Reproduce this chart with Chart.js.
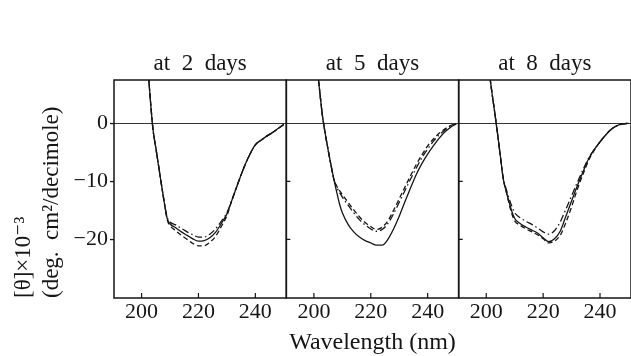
<!DOCTYPE html>
<html><head><meta charset="utf-8">
<script src="https://cdn.jsdelivr.net/npm/chart.js@4.4.0/dist/chart.umd.min.js"></script>
<style>html,body{margin:0;padding:0;background:#fff;overflow:hidden}#c{display:block}</style>
</head><body><canvas id="c" width="631" height="356"></canvas>
<script>
// ---- data ----
const wavelengths = [201,202,203,204,205,206,207,208,209,210,212,214,216,218,220,222,224,226,228,230,232,234,236,238,240,242,244,246,248,250];
const panelTitles = ['at  2  days', 'at  5  days', 'at  8  days'];
const xTickValues = [200, 220, 240];
const yTickValues = [0, -10, -20];
const xTitle = 'Wavelength (nm)';
const yTitle = ['[θ]×10⁻³', '(deg.  cm²/decimole)'];

// at 2 days
const day2Solid   = [17.6,11.1,4.6,-1.0,-4.2,-7.4,-10.6,-13.7,-16.4,-17.3,-18.0,-18.7,-19.3,-19.9,-20.3,-20.2,-19.7,-18.8,-17.3,-15.6,-12.9,-10.2,-7.6,-5.4,-3.7,-2.9,-2.2,-1.6,-0.9,-0.2];
const day2Dashed  = [17.6,11.1,4.6,-1.0,-4.2,-7.4,-10.6,-13.7,-16.6,-17.6,-18.5,-19.3,-20.0,-20.7,-21.1,-21.1,-20.5,-19.5,-17.8,-15.9,-12.9,-10.2,-7.6,-5.4,-3.7,-2.9,-2.2,-1.6,-0.9,-0.2];
const day2DashDot = [17.6,11.1,4.6,-1.0,-4.2,-7.4,-10.6,-13.7,-16.2,-17.0,-17.5,-18.1,-18.7,-19.2,-19.6,-19.6,-19.1,-18.2,-16.9,-15.4,-12.9,-10.2,-7.6,-5.4,-3.7,-2.9,-2.2,-1.6,-0.9,-0.2];
// at 5 days
const day5Solid   = [10.1,5.7,1.3,-1.8,-4.6,-7.2,-9.6,-11.8,-13.9,-15.4,-17.4,-18.7,-19.6,-20.2,-20.6,-21.0,-21.0,-20.0,-18.2,-16.0,-13.5,-11.1,-8.8,-6.9,-5.3,-3.9,-2.6,-1.5,-0.7,-0.1];
const day5Dashed  = [10.1,5.7,1.3,-1.8,-4.6,-7.2,-9.6,-10.8,-11.6,-12.3,-13.6,-14.9,-16.1,-17.1,-17.8,-18.3,-17.9,-16.8,-15.0,-13.0,-11.0,-9.0,-7.1,-5.4,-3.9,-2.7,-1.7,-1.0,-0.4,0];
const day5DashDot = [10.1,5.7,1.3,-1.8,-4.6,-7.2,-9.6,-11.0,-11.9,-12.7,-14.1,-15.4,-16.6,-17.5,-18.2,-18.6,-18.3,-17.3,-15.6,-13.6,-11.6,-9.6,-7.7,-5.9,-4.4,-3.1,-2.0,-1.2,-0.5,-0.1];
// at 8 days
const day8Solid   = [9.0,5.3,1.8,-1.9,-5.8,-9.6,-11.7,-13.5,-15.2,-16.4,-17.3,-17.9,-18.4,-18.9,-19.7,-20.4,-19.9,-18.6,-16.0,-13.4,-10.8,-8.4,-6.1,-4.5,-3.2,-2.0,-1.0,-0.4,-0.1,0];
const day8Dashed  = [9.0,5.3,1.8,-1.9,-5.8,-9.6,-11.7,-13.8,-15.6,-16.8,-17.6,-18.2,-18.7,-19.2,-19.9,-20.6,-20.3,-19.3,-17.1,-14.4,-11.4,-8.8,-6.4,-4.6,-3.2,-2.0,-1.0,-0.4,-0.1,0];
const day8DashDot = [9.0,5.3,1.8,-1.9,-5.8,-9.6,-11.3,-12.9,-14.3,-15.4,-16.3,-16.9,-17.4,-18.0,-18.7,-19.1,-18.5,-17.0,-14.8,-12.5,-10.2,-8.0,-6.0,-4.5,-3.2,-2.0,-1.0,-0.4,-0.1,0];

// ---- styling ----
const FONT = "'Liberation Serif', 'DejaVu Serif', serif";
const INK = '#151515';
const X_MIN = 190.3, X_MAX = 250.9, Y_MIN = -30.1, Y_MAX = 7.47;

const panels = [
  [day2Solid, day2Dashed, day2DashDot],
  [day5Solid, day5Dashed, day5DashDot],
  [day8Solid, day8Dashed, day8DashDot]
];
const dashes = [[], [5, 3], [7, 3, 1.5, 3]];

const datasets = [];
panels.forEach((series, p) => {
  series.forEach((vals, k) => {
    datasets.push({
      data: wavelengths.map((w, i) => ({x: w, y: vals[i]})),
      xAxisID: 'x' + (p + 1),
      yAxisID: 'y',
      borderColor: INK,
      borderWidth: 1.3,
      borderDash: dashes[k],
      pointRadius: 0,
      fill: false,
      cubicInterpolationMode: 'monotone'
    });
  });
});

const scales = {
  y: {
    type: 'linear', position: 'left', min: Y_MIN, max: Y_MAX,
    afterBuildTicks: s => { s.ticks = yTickValues.map(v => ({value: v})); },
    afterFit: s => { s.width = 114; },
    ticks: {
      font: {family: FONT, size: 22}, color: INK, padding: 2,
      callback: v => v < 0 ? '\u2212' + (-v) : String(v)
    },
    grid: {
      color: c => (c.tick && c.tick.value === 0) ? '#333' : 'rgba(0,0,0,0)',
      lineWidth: 1.1, tickLength: 4, tickColor: INK, tickWidth: 1.3, drawTicks: true
    },
    border: {display: false},
    title: {
      display: true, text: yTitle, align: 'start', color: INK,
      font: {family: FONT, size: 23, lineHeight: 1.22},
      padding: {top: 10, bottom: 0}
    }
  }
};
// bottom axes, one per panel (stacked side by side)
for (let p = 1; p <= 3; p++) {
  scales['x' + p] = {
    type: 'linear', position: 'bottom', stack: 'bottomStack', stackWeight: 1,
    min: X_MIN, max: X_MAX,
    afterBuildTicks: s => { s.ticks = xTickValues.map(v => ({value: v})); },
    afterFit: s => { s.height = 58; },
    ticks: {font: {family: FONT, size: 22}, color: INK, padding: 1, maxRotation: 0},
    grid: {display: false, drawTicks: false},
    border: {display: false},
    title: p === 2 ? {
      display: true, text: xTitle, color: INK,
      font: {family: FONT, size: 24, lineHeight: 1},
      padding: {top: 0, bottom: 1}
    } : {display: false}
  };
}
// top axes carrying the panel titles (top stack is laid out in reverse order)
for (let p = 3; p >= 1; p--) {
  scales['t' + p] = {
    type: 'linear', position: 'top', stack: 'topStack', stackWeight: 1,
    min: X_MIN, max: X_MAX,
    afterFit: s => { s.height = 80; },
    ticks: {display: false},
    grid: {display: false, drawTicks: false},
    border: {display: false},
    title: {
      display: true, text: panelTitles[p - 1], color: INK,
      font: {family: FONT, size: 23, lineHeight: 1.2},
      padding: {top: 50, bottom: 0}
    }
  };
}

const frames = {
  id: 'frames',
  afterDatasetsDraw(chart) {
    const {ctx, chartArea} = chart;
    const y = chart.scales.y;
    ctx.save();
    ctx.strokeStyle = INK;
    for (let p = 1; p <= 3; p++) {
      const xs = chart.scales['x' + p];
      ctx.lineWidth = 1.5;
      ctx.strokeRect(xs.left, chartArea.top, xs.right - xs.left, chartArea.bottom - chartArea.top);
      ctx.lineWidth = 1.2;
      ctx.beginPath();
      xTickValues.forEach(v => {
        const px = xs.getPixelForValue(v);
        ctx.moveTo(px, chartArea.bottom);
        ctx.lineTo(px, chartArea.bottom - 5);
      });
      if (p > 1) {
        yTickValues.filter(v => v !== 0).forEach(v => {
          const py = y.getPixelForValue(v);
          ctx.moveTo(xs.left, py);
          ctx.lineTo(xs.left + 4, py);
        });
      }
      ctx.stroke();
    }
    ctx.restore();
  }
};

new Chart(document.getElementById('c'), {
  type: 'line',
  data: {datasets},
  options: {
    responsive: false, animation: false, devicePixelRatio: 1,
    layout: {padding: {left: 0, right: -2, top: 0, bottom: 0}},
    plugins: {legend: {display: false}, tooltip: {enabled: false}},
    scales
  },
  plugins: [frames]
});
</script>
</body></html>
